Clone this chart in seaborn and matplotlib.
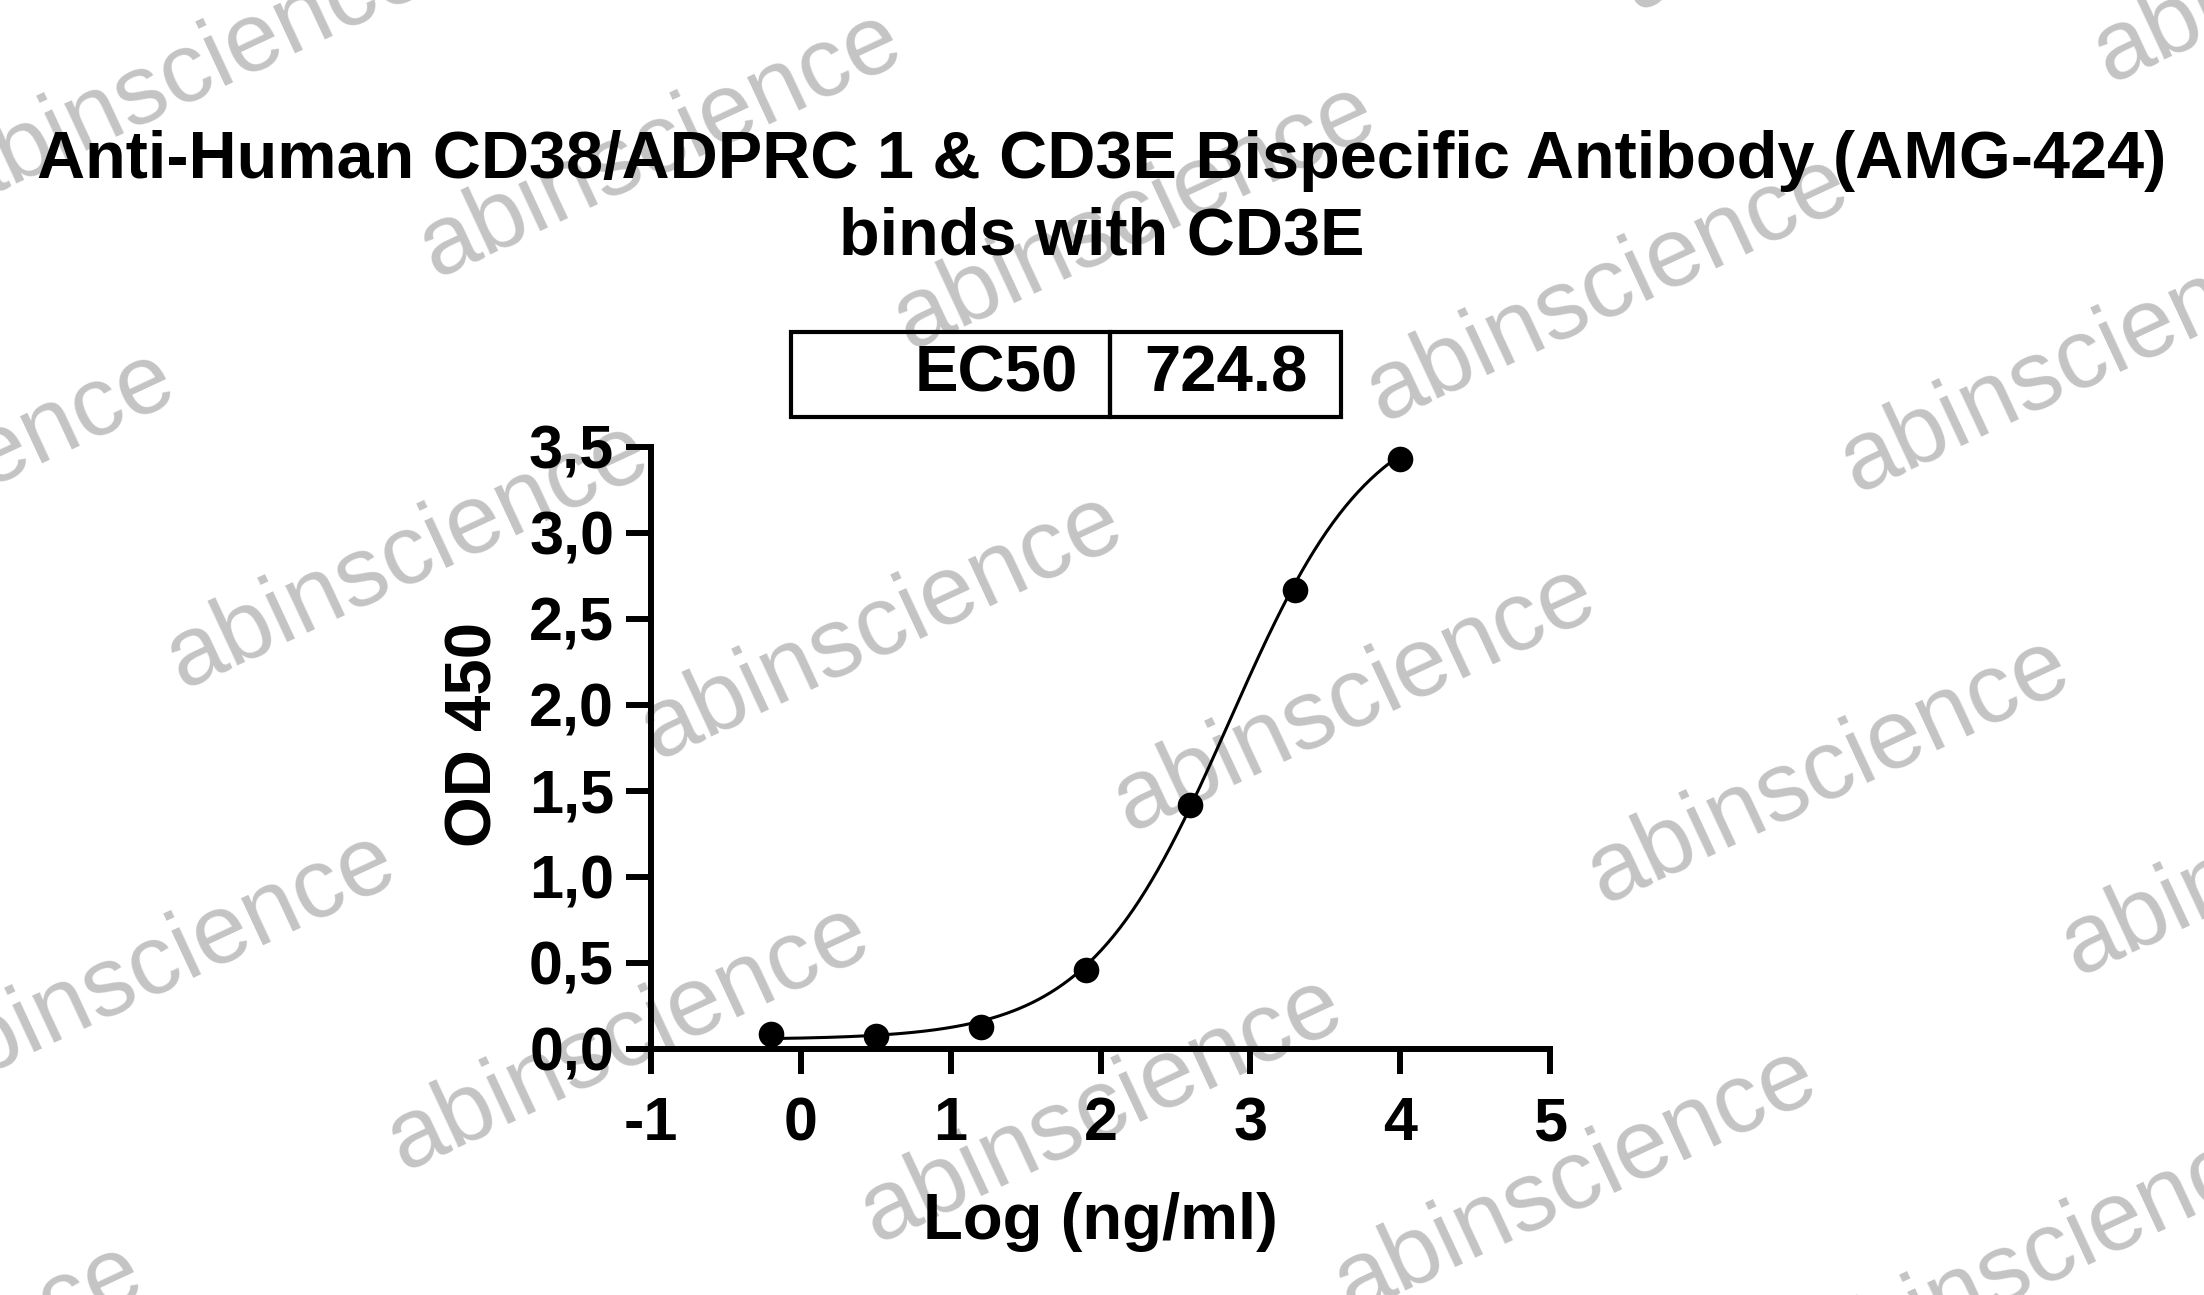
import numpy as np
import pandas as pd
import matplotlib
matplotlib.use("Agg")
import matplotlib.pyplot as plt
import seaborn as sns
from matplotlib.ticker import FuncFormatter

# data
log_conc = [-0.2, 0.5, 1.2, 1.9, 2.6, 3.3, 4.0]
od450 = [0.09, 0.075, 0.13, 0.46, 1.42, 2.67, 3.43]
ec50 = 724.8
# 4PL fit parameters (EC50 from the chart, rest estimated from the drawn curve)
fit_bottom = 0.055
fit_top = 3.755
fit_hill = 0.92

x_ticks = [-1, 0, 1, 2, 3, 4, 5]
y_ticks = [0.0, 0.5, 1.0, 1.5, 2.0, 2.5, 3.0, 3.5]
title = "Anti-Human CD38/ADPRC 1 & CD3E Bispecific Antibody (AMG-424)\nbinds with CD3E"

df_pts = pd.DataFrame({"log": log_conc, "od": od450})
xf = np.linspace(min(log_conc), max(log_conc), 300)
yf = fit_bottom + (fit_top - fit_bottom) / (1 + 10 ** ((np.log10(ec50) - xf) * fit_hill))
df_fit = pd.DataFrame({"x": xf, "y": yf})

sns.set_theme(style="ticks")
plt.rcParams["font.family"] = ["Liberation Sans", "DejaVu Sans"]
plt.rcParams.update({"font.weight": "bold", "axes.labelweight": "bold",
                     "text.color": "black", "axes.labelcolor": "black",
                     "xtick.color": "black", "ytick.color": "black"})

W, H = 2204, 1295
fig = plt.figure(figsize=(W / 100, H / 100), dpi=100)
fig.patch.set_facecolor("white")
ax = fig.add_axes([651 / W, (H - 1049) / H, 899 / W, 602 / H])
ax.set_facecolor("none")

# watermark lattice
base = np.array([407.6, 555.2])
u = np.array([473.7, 71.7])
v = np.array([-253.0, 410.4])
for i in range(-3, 6):
    for j in range(-3, 4):
        cx, cy = base + i * u + j * v
        if -300 < cx < W + 300 and -200 < cy < H + 200:
            fig.text(cx / W, 1 - cy / H, "abinscience", rotation=25, rotation_mode="anchor",
                     ha="center", va="center", fontsize=71, fontweight="normal",
                     color="#c4c4c4", zorder=-1)

sns.lineplot(data=df_fit, x="x", y="y", ax=ax, color="black", linewidth=2.2, zorder=3)
sns.scatterplot(data=df_pts, x="log", y="od", ax=ax, color="black", s=340,
                linewidth=0, zorder=4, clip_on=False)

ax.set_xlim(-1, 5)
ax.set_ylim(0, 3.5)
ax.set_xticks(x_ticks)
ax.set_yticks(y_ticks)
ax.xaxis.set_major_formatter(FuncFormatter(lambda val, p: f"{val:.0f}"))
ax.yaxis.set_major_formatter(FuncFormatter(lambda val, p: f"{val:.1f}".replace(".", ",")))

sns.despine(ax=ax)
for s in ["left", "bottom"]:
    ax.spines[s].set_linewidth(4.3)
    ax.spines[s].set_color("black")
ax.tick_params(width=4.3, length=18, labelsize=44, direction="out", color="black")
ax.tick_params(axis="x", pad=16)
ax.tick_params(axis="y", pad=8.6)

ax.set_xlabel("Log (ng/ml)", fontsize=47)
ax.set_ylabel("OD 450", fontsize=47)
ax.xaxis.set_label_coords(0.5, -0.237)
ax.yaxis.set_label_coords(-0.163, 0.523)

fig.suptitle(title, x=0.5, y=1 - 130 / H, va="top", fontsize=48, fontweight="bold",
             linespacing=1.3)

# EC50 box
tbl = ax.table(cellText=[["EC50", f"{ec50}"]], cellLoc="center",
               colWidths=[0.58, 0.42], bbox=[0.1557, 1.0498, 0.6118, 0.1412])
tbl.auto_set_font_size(False)
tbl.set_fontsize(47)
for (r, c), cell in tbl.get_celld().items():
    cell.set_linewidth(3)
    cell.set_edgecolor("black")
    cell.set_facecolor("none")
    cell.get_text().set_fontweight("bold")
tbl[0, 0].set_text_props(ha="right")

fig.savefig("out.png", dpi=100, facecolor="white")
plt.close(fig)
